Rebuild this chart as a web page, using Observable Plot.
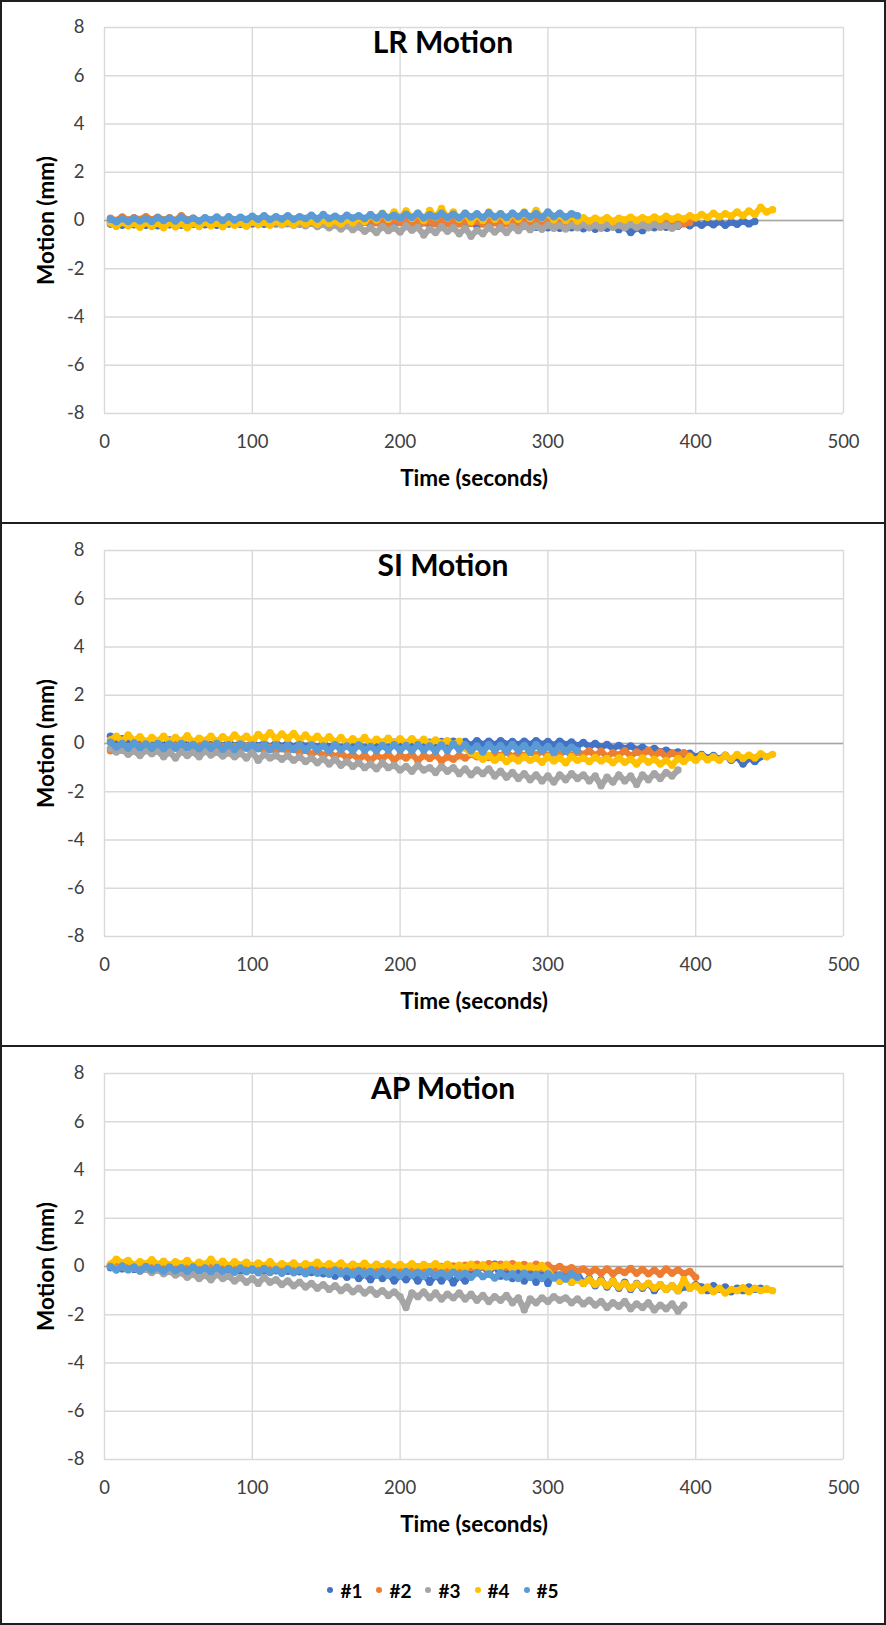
<!DOCTYPE html>
<html><head><meta charset="utf-8">
<script src="https://cdn.jsdelivr.net/npm/d3@7"></script>
<script src="https://cdn.jsdelivr.net/npm/@observablehq/plot@0.6"></script>
<style>
body{margin:0;background:#fff;}
#wrap{position:relative;width:886px;height:1625px;font-family:Lato,"Open Sans",sans-serif;background:#fff;}
.bd{position:absolute;background:#1e1e1e;}
.panel{position:absolute;left:0;width:886px;}
.legend{position:absolute;left:0;width:886px;top:1578px;height:24px;display:flex;justify-content:center;align-items:center;gap:14px;font-weight:bold;font-size:19px;color:#000;}
.legend .it{display:flex;align-items:center;gap:7px;}
.legend .dot{width:6px;height:6px;border-radius:50%;display:inline-block;}
</style></head>
<body><div id="wrap"></div>
<script>
const seriesNames = ["#1", "#2", "#3", "#4", "#5"];
const seriesColors = ["#4472C4", "#ED7D31", "#A5A5A5", "#FFC000", "#5B9BD5"];
const xTicks = [0, 100, 200, 300, 400, 500];
const yTicks = [-8, -6, -4, -2, 0, 2, 4, 6, 8];
const panelTitles = ["LR Motion", "SI Motion", "AP Motion"];
const xLabel = "Time (seconds)";
const yLabel = "Motion (mm)";
const SAMPLE_START = 4, SAMPLE_STEP = 4; // seconds

// ---- LR Motion (mm), one value every 4 s ----
const lr1 = [-0.15,-0.05,-0.2,-0.08,-0.18,-0.06,-0.2,-0.1,-0.22,-0.08,
-0.18,-0.06,-0.2,-0.1,-0.16,-0.04,-0.18,-0.08,-0.2,-0.06,
-0.15,-0.04,-0.16,-0.06,-0.14,-0.02,-0.16,-0.05,-0.14,-0.03,
-0.13,-0.02,-0.15,-0.04,-0.12,0.0,-0.14,-0.03,-0.12,-0.01,
-0.13,-0.02,-0.15,-0.05,-0.16,-0.04,-0.18,-0.06,-0.15,-0.05,
-0.18,-0.06,-0.2,-0.08,-0.16,-0.05,-0.2,-0.07,-0.18,-0.06,
-0.2,-0.08,-0.22,-0.1,-0.18,-0.06,-0.2,-0.08,-0.22,-0.1,
-0.24,-0.12,-0.28,-0.14,-0.3,-0.16,-0.32,-0.18,-0.3,-0.16,
-0.34,-0.2,-0.36,-0.22,-0.32,-0.18,-0.38,-0.24,-0.5,-0.3,
-0.42,-0.22,-0.3,-0.16,-0.28,-0.12,-0.24,-0.1,-0.22,-0.08,
-0.2,-0.06,-0.18,-0.04,-0.2,-0.06,-0.16,-0.02,-0.14,-0.04];
const lr2 = [0.1,0.0,0.15,0.02,0.12,0.04,0.16,0.03,0.14,0.02,
0.12,0.0,0.2,0.02,0.1,-0.02,0.08,-0.04,0.06,-0.05,
0.04,-0.06,0.05,-0.05,0.03,-0.08,0.04,-0.06,0.02,-0.07,
0.02,-0.08,0.03,-0.06,0.0,-0.1,0.02,-0.08,0.0,-0.1,
0.02,-0.08,0.04,-0.06,0.02,-0.1,0.0,-0.12,0.03,-0.08,
0.0,-0.12,0.02,-0.1,-0.02,-0.14,0.0,-0.12,-0.02,-0.15,
0.0,-0.12,-0.02,-0.15,0.0,-0.1,-0.03,-0.14,-0.01,-0.12,
-0.02,-0.14,0.0,-0.12,-0.04,-0.15,-0.02,-0.13,-0.04,-0.16,
-0.02,-0.14,-0.04,-0.16,-0.02,-0.12,-0.05,-0.15,-0.03,-0.14,
-0.02,-0.12,-0.04,-0.15,-0.02,-0.12,-0.05,-0.14,-0.08];
const lr3 = [-0.05,-0.15,-0.08,-0.18,-0.1,-0.2,-0.06,-0.16,-0.1,-0.2,
-0.08,-0.18,-0.1,-0.2,-0.06,-0.16,-0.08,-0.18,-0.1,-0.2,
-0.08,-0.16,-0.1,-0.18,-0.06,-0.14,-0.08,-0.16,-0.1,-0.18,
-0.1,-0.2,-0.12,-0.22,-0.1,-0.25,-0.15,-0.3,-0.18,-0.35,
-0.2,-0.38,-0.25,-0.45,-0.3,-0.5,-0.25,-0.42,-0.3,-0.48,
-0.22,-0.4,-0.28,-0.6,-0.35,-0.5,-0.25,-0.45,-0.3,-0.55,
-0.32,-0.65,-0.4,-0.55,-0.28,-0.48,-0.3,-0.5,-0.25,-0.42,
-0.2,-0.38,-0.22,-0.36,-0.18,-0.32,-0.2,-0.35,-0.18,-0.3,
-0.16,-0.3,-0.18,-0.32,-0.15,-0.28,-0.18,-0.3,-0.16,-0.28,
-0.18,-0.3,-0.15,-0.28,-0.2,-0.32,-0.22];
const lr4 = [-0.1,-0.25,-0.05,-0.22,-0.12,-0.28,-0.08,-0.25,-0.1,-0.3,
-0.08,-0.26,-0.12,-0.3,-0.1,-0.25,-0.06,-0.22,-0.1,-0.26,
-0.05,-0.2,-0.08,-0.24,-0.04,-0.18,-0.06,-0.2,-0.02,-0.16,
-0.04,-0.18,0.0,-0.14,-0.02,-0.16,0.02,-0.12,0.0,-0.15,
0.05,-0.1,0.1,-0.05,0.25,0.02,0.3,0.05,0.35,0.1,
0.4,0.08,0.3,0.0,0.42,0.12,0.5,0.1,0.35,0.05,
0.3,-0.05,0.25,0.0,0.35,0.05,0.28,-0.02,0.3,0.05,
0.35,0.08,0.42,0.1,0.3,0.02,0.25,0.0,0.2,-0.02,
0.12,-0.02,0.1,0.0,0.12,-0.04,0.1,0.02,0.14,0.0,
0.12,0.02,0.15,0.04,0.18,0.05,0.15,0.06,0.2,0.1,
0.25,0.12,0.3,0.15,0.28,0.18,0.35,0.2,0.4,0.25,
0.55,0.35,0.45];
const lr5 = [0.05,-0.05,0.08,-0.04,0.1,-0.02,0.08,-0.04,0.12,0.0,
0.1,-0.02,0.14,0.0,0.1,-0.02,0.12,0.02,0.15,0.0,
0.16,0.02,0.14,0.04,0.18,0.05,0.2,0.04,0.16,0.06,
0.2,0.05,0.16,0.08,0.22,0.06,0.25,0.08,0.18,0.06,
0.22,0.1,0.2,0.08,0.24,0.1,0.28,0.12,0.22,0.1,
0.26,0.12,0.3,0.1,0.24,0.14,0.3,0.12,0.26,0.1,
0.3,0.14,0.28,0.12,0.32,0.15,0.28,0.12,0.3,0.16,
0.32,0.14,0.28,0.12,0.35,0.16,0.3,0.14,0.28,0.2];

// ---- SI Motion (mm) ----
const si1 = [0.3,0.1,0.2,0.0,0.1,-0.05,0.08,-0.08,0.05,-0.1,
0.15,-0.05,0.1,-0.08,0.05,-0.1,0.08,-0.06,0.04,-0.1,
0.05,-0.1,0.02,-0.12,0.04,-0.1,0.0,-0.14,0.02,-0.12,
0.0,-0.14,0.02,-0.12,-0.02,-0.16,0.0,-0.14,-0.04,-0.18,
-0.02,-0.16,-0.04,-0.2,0.0,-0.15,-0.05,-0.2,0.05,-0.1,
0.0,-0.15,0.02,-0.12,0.05,-0.1,0.08,-0.08,0.1,-0.05,
0.08,-0.08,0.12,-0.05,0.1,-0.06,0.12,-0.04,0.08,-0.06,
0.1,-0.05,0.12,-0.04,0.08,-0.08,0.1,-0.05,0.06,-0.1,
0.04,-0.12,0.0,-0.15,-0.04,-0.2,-0.08,-0.22,-0.1,-0.25,
-0.15,-0.3,-0.2,-0.35,-0.28,-0.4,-0.35,-0.5,-0.4,-0.55,
-0.45,-0.6,-0.5,-0.65,-0.48,-0.7,-0.55,-0.85,-0.6,-0.75,
-0.55];
const si2 = [-0.3,-0.15,-0.28,-0.12,-0.25,-0.1,-0.22,-0.12,-0.26,-0.14,
-0.22,-0.1,-0.25,-0.12,-0.2,-0.08,-0.24,-0.1,-0.22,-0.12,
-0.25,-0.12,-0.22,-0.1,-0.26,-0.14,-0.28,-0.15,-0.3,-0.18,
-0.32,-0.2,-0.38,-0.25,-0.45,-0.3,-0.5,-0.35,-0.55,-0.4,
-0.6,-0.45,-0.65,-0.48,-0.7,-0.5,-0.62,-0.45,-0.68,-0.5,
-0.6,-0.45,-0.7,-0.5,-0.62,-0.48,-0.72,-0.55,-0.65,-0.5,
-0.6,-0.45,-0.55,-0.4,-0.58,-0.42,-0.5,-0.35,-0.55,-0.4,
-0.5,-0.35,-0.48,-0.32,-0.52,-0.38,-0.45,-0.3,-0.5,-0.35,
-0.45,-0.3,-0.5,-0.32,-0.55,-0.38,-0.48,-0.3,-0.52,-0.35,
-0.45,-0.28,-0.5,-0.35,-0.55,-0.4,-0.5,-0.38,-0.52];
const si3 = [-0.2,-0.35,-0.25,-0.45,-0.3,-0.5,-0.28,-0.42,-0.3,-0.55,
-0.35,-0.6,-0.32,-0.5,-0.35,-0.55,-0.3,-0.48,-0.35,-0.52,
-0.38,-0.55,-0.4,-0.6,-0.35,-0.7,-0.45,-0.6,-0.5,-0.65,
-0.5,-0.7,-0.55,-0.75,-0.6,-0.8,-0.62,-0.85,-0.65,-0.9,
-0.75,-0.95,-0.8,-1.0,-0.85,-1.05,-0.8,-1.0,-0.9,-1.1,
-0.95,-1.15,-0.9,-1.1,-1.0,-1.2,-0.95,-1.15,-1.0,-1.25,
-1.05,-1.3,-1.1,-1.25,-1.05,-1.35,-1.15,-1.4,-1.2,-1.45,
-1.25,-1.5,-1.3,-1.55,-1.35,-1.6,-1.3,-1.5,-1.25,-1.45,
-1.3,-1.55,-1.35,-1.75,-1.4,-1.6,-1.3,-1.55,-1.35,-1.7,
-1.3,-1.5,-1.25,-1.45,-1.2,-1.35,-1.1];
const si4 = [0.15,0.3,0.1,0.35,0.12,0.28,0.05,0.25,0.1,0.3,
0.08,0.25,0.1,0.32,0.06,0.22,0.12,0.3,0.08,0.28,
0.12,0.35,0.15,0.3,0.1,0.38,0.2,0.45,0.18,0.4,
0.2,0.42,0.15,0.35,0.12,0.3,0.08,0.28,0.05,0.25,
0.02,0.2,0.05,0.25,0.0,0.18,0.04,0.22,0.0,0.2,
0.02,0.2,0.0,0.18,-0.02,0.15,0.0,0.12,-0.05,0.1,
-0.2,-0.4,-0.5,-0.65,-0.5,-0.7,-0.55,-0.75,-0.6,-0.72,
-0.55,-0.7,-0.6,-0.78,-0.55,-0.72,-0.6,-0.8,-0.55,-0.7,
-0.6,-0.75,-0.58,-0.72,-0.62,-0.8,-0.6,-0.78,-0.65,-0.85,
-0.6,-0.78,-0.65,-0.85,-0.7,-0.9,-0.62,-0.75,-0.55,-0.7,
-0.5,-0.68,-0.55,-0.7,-0.5,-0.65,-0.45,-0.62,-0.48,-0.6,
-0.42,-0.55,-0.45];
const si5 = [0.05,-0.15,0.0,-0.2,0.02,-0.18,-0.02,-0.2,0.0,-0.22,
-0.02,-0.2,0.0,-0.18,-0.04,-0.22,-0.02,-0.2,0.0,-0.24,
-0.05,-0.25,-0.02,-0.2,-0.06,-0.22,-0.04,-0.26,-0.05,-0.22,
-0.08,-0.25,-0.04,-0.28,-0.06,-0.25,-0.1,-0.3,-0.05,-0.26,
-0.1,-0.3,-0.06,-0.28,-0.12,-0.3,-0.08,-0.26,-0.05,-0.28,
-0.08,-0.3,-0.05,-0.28,-0.1,-0.32,-0.06,-0.3,-0.02,-0.25,
-0.05,-0.3,-0.1,-0.35,-0.05,-0.28,-0.08,-0.32,-0.04,-0.3,
-0.08,-0.35,-0.05,-0.3,-0.12,-0.38,-0.1,-0.32,-0.15,-0.3];

// ---- AP Motion (mm) ----
const ap1 = [-0.05,0.1,-0.1,0.05,-0.12,0.02,-0.1,0.0,-0.14,0.02,
-0.1,0.0,-0.12,-0.02,-0.15,-0.04,-0.12,0.0,-0.16,-0.05,
-0.14,-0.02,-0.18,-0.05,-0.15,-0.04,-0.2,-0.08,-0.18,-0.06,
-0.2,-0.08,-0.22,-0.1,-0.25,-0.12,-0.3,-0.15,-0.4,-0.2,
-0.45,-0.25,-0.5,-0.3,-0.55,-0.28,-0.5,-0.3,-0.6,-0.35,
-0.55,-0.3,-0.6,-0.32,-0.65,-0.35,-0.6,-0.3,-0.68,-0.38,
-0.6,-0.3,-0.2,0.05,-0.3,0.1,-0.4,0.0,-0.5,-0.1,
-0.6,-0.2,-0.65,-0.15,-0.7,-0.25,-0.6,-0.2,-0.65,-0.3,
-0.7,-0.5,-0.8,-0.55,-0.85,-0.6,-0.9,-0.65,-0.95,-0.7,
-0.9,-0.7,-1.0,-0.75,-0.95,-0.8,-1.0,-0.85,-0.9,-0.75,
-0.85,-1.0,-0.8,-0.95,-0.85,-1.05,-0.9,-1.0,-0.85,-0.95,
-0.9];
const ap2 = [0.05,-0.05,0.08,-0.02,0.05,-0.06,0.04,-0.05,0.06,-0.04,
0.03,-0.06,0.05,-0.05,0.02,-0.08,0.04,-0.06,0.0,-0.08,
0.02,-0.08,0.0,-0.1,0.02,-0.08,0.0,-0.12,-0.02,-0.1,
0.0,-0.12,-0.02,-0.14,0.0,-0.1,-0.03,-0.14,-0.02,-0.12,
-0.04,-0.15,-0.02,-0.12,-0.05,-0.16,-0.02,-0.14,-0.04,-0.15,
-0.05,-0.16,-0.02,-0.14,-0.04,-0.15,0.0,-0.12,0.02,-0.1,
0.05,-0.05,0.1,-0.02,0.12,0.0,0.1,-0.03,0.12,0.02,
0.08,-0.05,0.1,-0.08,0.05,-0.1,0.0,-0.15,-0.05,-0.2,
-0.1,-0.25,-0.12,-0.28,-0.1,-0.3,-0.15,-0.25,-0.08,-0.28,
-0.12,-0.3,-0.15,-0.32,-0.1,-0.28,-0.14,-0.3,-0.2,-0.45];
const ap3 = [0.05,-0.1,0.0,-0.15,-0.05,-0.2,-0.1,-0.25,-0.12,-0.3,
-0.2,-0.35,-0.25,-0.45,-0.3,-0.5,-0.35,-0.55,-0.3,-0.5,
-0.4,-0.6,-0.45,-0.65,-0.5,-0.7,-0.45,-0.65,-0.55,-0.75,
-0.6,-0.8,-0.65,-0.85,-0.7,-0.9,-0.75,-0.95,-0.8,-1.0,
-0.85,-1.05,-0.9,-1.1,-0.95,-1.15,-1.0,-1.2,-1.05,-1.25,
-1.7,-1.1,-1.25,-1.05,-1.3,-1.1,-1.35,-1.15,-1.3,-1.1,
-1.35,-1.15,-1.4,-1.2,-1.45,-1.25,-1.4,-1.2,-1.5,-1.3,
-1.8,-1.35,-1.5,-1.3,-1.45,-1.25,-1.4,-1.3,-1.5,-1.35,
-1.55,-1.4,-1.6,-1.45,-1.7,-1.5,-1.65,-1.45,-1.75,-1.55,
-1.7,-1.5,-1.8,-1.6,-1.75,-1.55,-1.85,-1.6];
const ap4 = [0.1,0.3,0.15,0.25,0.05,0.2,0.1,0.28,0.08,0.22,
0.05,0.2,0.1,0.25,0.02,0.18,0.08,0.3,0.05,0.22,
0.02,0.2,0.05,0.18,0.0,0.15,0.02,0.2,-0.02,0.12,
0.0,0.15,-0.04,0.12,0.02,0.18,-0.02,0.12,0.0,0.15,
-0.05,0.1,-0.02,0.14,-0.06,0.1,-0.02,0.12,-0.05,0.08,
-0.04,0.12,-0.08,0.08,-0.02,0.12,-0.06,0.1,-0.1,0.05,
-0.05,0.1,-0.08,0.06,-0.12,0.04,-0.06,0.1,-0.1,0.05,
-0.12,0.02,-0.1,0.04,-0.2,-0.45,-0.6,-0.5,-0.65,-0.55,
-0.7,-0.55,-0.75,-0.6,-0.8,-0.62,-0.85,-0.7,-0.9,-0.72,
-0.85,-0.7,-0.9,-0.75,-0.95,-0.8,-1.0,-0.55,-0.9,-0.8,
-1.0,-0.85,-1.05,-0.9,-1.1,-0.95,-1.0,-0.88,-1.05,-0.9,
-1.0,-0.92,-1.0];
const ap5 = [0.0,-0.15,0.02,-0.12,-0.02,-0.18,0.0,-0.15,-0.04,-0.2,
-0.02,-0.18,-0.05,-0.2,-0.02,-0.18,-0.06,-0.22,-0.04,-0.2,
-0.08,-0.24,-0.06,-0.22,-0.1,-0.26,-0.08,-0.25,-0.12,-0.28,
-0.1,-0.26,-0.14,-0.3,-0.12,-0.28,-0.16,-0.32,-0.14,-0.3,
-0.18,-0.34,-0.16,-0.32,-0.2,-0.36,-0.18,-0.35,-0.22,-0.38,
-0.2,-0.36,-0.24,-0.4,-0.22,-0.38,-0.26,-0.42,-0.24,-0.4,
-0.28,-0.45,-0.25,-0.42,-0.3,-0.48,-0.26,-0.44,-0.3,-0.5,
-0.28,-0.46,-0.32,-0.5,-0.3,-0.48,-0.34,-0.52,-0.3,-0.45];

const panels = [
  {title: panelTitles[0], series: [lr1, lr2, lr3, lr4, lr5]},
  {title: panelTitles[1], series: [si1, si2, si3, si4, si5]},
  {title: panelTitles[2], series: [ap1, ap2, ap3, ap4, ap5]}
];

const wrap = document.getElementById("wrap");
const panelTops = [0, 523, 1046];
const fontFam = "Lato, 'Open Sans', sans-serif";

panels.forEach((p, pi) => {
  const marks = [
    Plot.gridX(xTicks, {stroke: "#d9d9d9", strokeOpacity: 1, strokeWidth: 1.4}),
    Plot.gridY(yTicks, {stroke: "#d9d9d9", strokeOpacity: 1, strokeWidth: 1.4}),
    Plot.ruleY([0], {stroke: "#a6a6a6", strokeWidth: 1.4}),
    Plot.axisX({ticks: xTicks, tickSize: 0, tickPadding: 21, tickFormat: d => String(d), label: null, fill: "#404040"}),
    Plot.axisY({ticks: yTicks, tickSize: 0, tickPadding: 20, tickFormat: d => String(d), label: null, fill: "#404040"})
  ];
  p.series.forEach((vals, si) => {
    const rows = vals.map((v, i) => ({t: SAMPLE_START + i * SAMPLE_STEP, v, s: seriesNames[si]}));
    marks.push(Plot.line(rows, {x: "t", y: "v", stroke: "s", strokeWidth: 6.2, strokeLinejoin: "round", strokeLinecap: "round"}));
    marks.push(Plot.dot(rows, {x: "t", y: "v", fill: "s", r: 3.7}));
  });
  marks.push(Plot.text([p.title], {text: d => d, frameAnchor: "top", dx: -31, dy: 16, lineAnchor: "middle", textAnchor: "middle", fontSize: 30, fontWeight: "bold", fill: "#000"}));
  marks.push(Plot.text([xLabel], {text: d => d, frameAnchor: "bottom", dy: 65, lineAnchor: "middle", textAnchor: "middle", fontSize: 22.5, fontWeight: "bold", fill: "#000"}));
  marks.push(Plot.text([yLabel], {text: d => d, frameAnchor: "left", dx: -58, rotate: -90, lineAnchor: "middle", textAnchor: "middle", fontSize: 22.5, fontWeight: "bold", fill: "#000"}));

  const svg = Plot.plot({
    width: 886, height: 500,
    marginLeft: 104, marginRight: 43, marginTop: 27, marginBottom: 87,
    style: {fontFamily: fontFam, fontSize: "18.5px", background: "transparent", overflow: "visible"},
    x: {domain: [0, 500]},
    y: {domain: [-8, 8]},
    color: {domain: seriesNames, range: seriesColors},
    marks
  });
  const div = document.createElement("div");
  div.className = "panel";
  div.style.top = panelTops[pi] + "px";
  div.appendChild(svg);
  wrap.appendChild(div);
});

// legend
const leg = document.createElement("div");
leg.className = "legend";
seriesNames.forEach((n, i) => {
  const it = document.createElement("span");
  it.className = "it";
  const d = document.createElement("span");
  d.className = "dot";
  d.style.background = seriesColors[i];
  it.appendChild(d);
  it.appendChild(document.createTextNode(n));
  leg.appendChild(it);
});
wrap.appendChild(leg);

// panel borders
[[0,0,886,2],[0,1623,886,2],[0,0,2,1625],[884,0,2,1625],[0,522,886,2],[0,1045,886,2]].forEach(([x,y,w,h]) => {
  const b = document.createElement("div");
  b.className = "bd";
  Object.assign(b.style, {left: x+"px", top: y+"px", width: w+"px", height: h+"px"});
  wrap.appendChild(b);
});
</script></body></html>
